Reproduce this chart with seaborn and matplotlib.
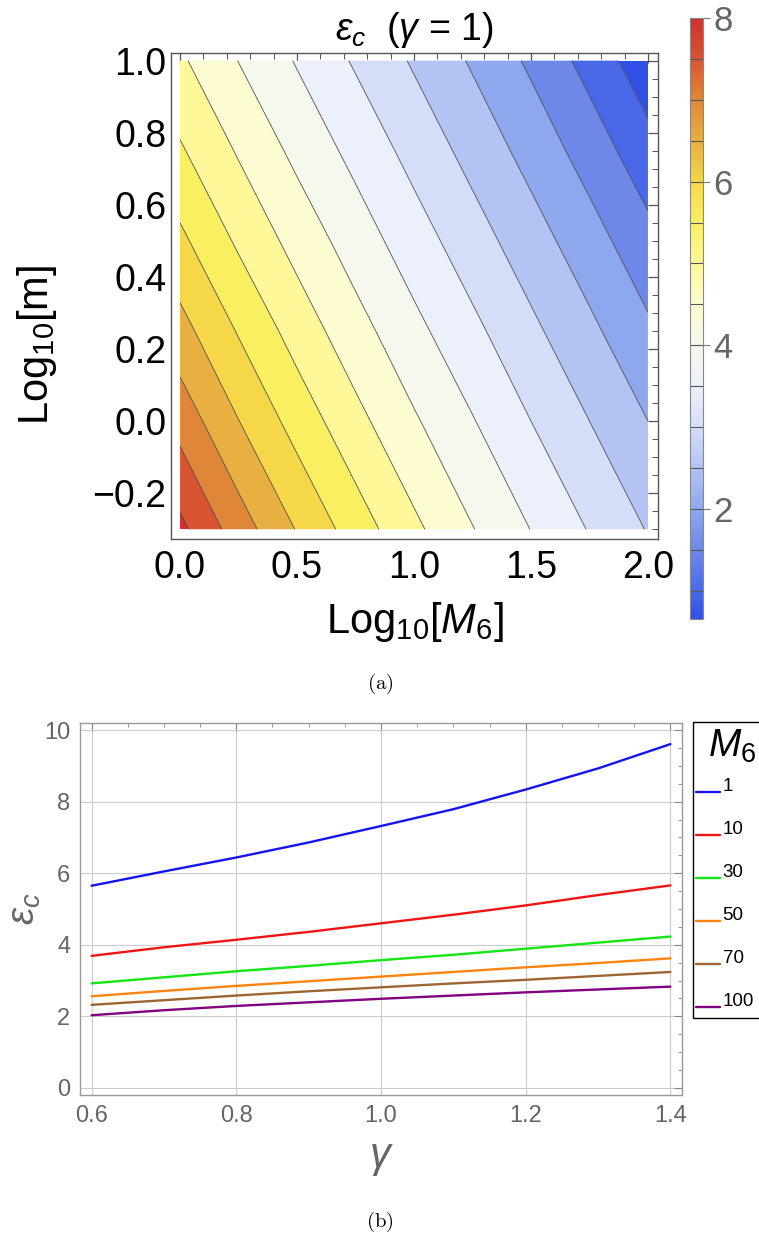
import numpy as np
import matplotlib
matplotlib.use("Agg")
import matplotlib.pyplot as plt
import seaborn as sns
import pandas as pd
from matplotlib.colors import LinearSegmentedColormap, Normalize
from matplotlib.cm import ScalarMappable
from matplotlib.ticker import MultipleLocator, FuncFormatter
from matplotlib.patches import Rectangle
from matplotlib.transforms import ScaledTranslation

# ---------------- panel (a) data: eps_c(gamma=1) on a grid ----------------
log_M6 = [0.0, 0.25, 0.5, 0.75, 1.0, 1.25, 1.5, 1.75, 2.0]
log_m = [-0.3, 0.0, 0.25, 0.5, 0.75, 1.0]
eps_row_m030 = [8.13, 7.25, 6.47, 5.76, 5.11, 4.52, 3.99, 3.47, 2.97]
eps_row_m000 = [7.31, 6.51, 5.80, 5.15, 4.56, 4.03, 3.50, 3.00, 2.50]
eps_row_p025 = [6.68, 5.96, 5.29, 4.69, 4.14, 3.62, 3.11, 2.61, 2.09]
eps_row_p050 = [6.11, 5.42, 4.82, 4.26, 3.73, 3.22, 2.72, 2.21, 1.66]
eps_row_p075 = [5.56, 4.95, 4.37, 3.85, 3.33, 2.83, 2.32, 1.78, 1.18]
eps_row_p100 = [5.08, 4.49, 3.96, 3.44, 2.94, 2.44, 1.91, 1.32, 0.68]

contour_levels = [1.0, 1.5, 2.0, 2.5, 3.0, 3.5, 4.0, 4.5, 5.0, 5.5, 6.0, 6.5, 7.0, 7.5, 8.0]
cbar_min, cbar_max = 0.66, 8.0
cbar_ticks = [2, 4, 6, 8]
# colour scale (value -> colour)
cmap_values = [0.66, 1.0, 1.5, 2.0, 2.5, 3.0, 3.5, 4.0, 4.5, 5.0, 5.5, 6.0, 6.5, 7.0, 7.5, 8.0]
cmap_colors = ["#3050E8", "#4A6AE8", "#6E88EA", "#90A8EE", "#B3C3F3", "#D6DEF8", "#ECF0FA",
               "#F5F8EC", "#FEFCD0", "#FFF89A", "#F8F060", "#F5D848", "#E8B040", "#E08838",
               "#D85430", "#D03030"]

# ---------------- panel (b) data ----------------
gamma = [0.6, 0.7, 0.8, 0.9, 1.0, 1.1, 1.2, 1.3, 1.4]
eps_M1 = [5.65, 6.05, 6.44, 6.86, 7.32, 7.79, 8.34, 8.93, 9.61]
eps_M10 = [3.69, 3.93, 4.14, 4.36, 4.60, 4.84, 5.10, 5.39, 5.66]
eps_M30 = [2.92, 3.09, 3.26, 3.41, 3.57, 3.72, 3.89, 4.06, 4.23]
eps_M50 = [2.56, 2.71, 2.85, 2.98, 3.11, 3.24, 3.37, 3.49, 3.62]
eps_M70 = [2.32, 2.45, 2.58, 2.70, 2.81, 2.92, 3.02, 3.13, 3.24]
eps_M100 = [2.03, 2.17, 2.29, 2.39, 2.49, 2.58, 2.67, 2.75, 2.83]
M6_labels = ["1", "10", "30", "50", "70", "100"]
line_colors = ["#1414F0", "#F01414", "#14E614", "#FF8410", "#9C6633", "#800080"]

# ---------------- style ----------------
sns.set_theme(style="white")
plt.rcParams["font.family"] = ["Liberation Sans", "DejaVu Sans"]
plt.rcParams["mathtext.fontset"] = "custom"
plt.rcParams["mathtext.rm"] = "Liberation Sans"
plt.rcParams["mathtext.it"] = "Liberation Sans:italic"
plt.rcParams["mathtext.bf"] = "Liberation Sans:bold"
plt.rcParams["axes.unicode_minus"] = True

W, H = 759, 1258
fig = plt.figure(figsize=(W / 100, H / 100), dpi=100)


def fx(px):
    return px / W


def fy(py):
    return 1 - py / H


# ======================= panel (a) =======================
ax1 = fig.add_axes([fx(170.7), fy(539), fx(658) - fx(170.7), fy(52.7) - fy(539)])
cmap = LinearSegmentedColormap.from_list(
    "thermo", [((v - cbar_min) / (cbar_max - cbar_min), c) for v, c in zip(cmap_values, cmap_colors)])
norm = Normalize(cbar_min, cbar_max)
fill_levels = [0.5] + contour_levels + [8.5]
band_colors = [cmap(norm(max(lv, cbar_min))) for lv in fill_levels[:-1]]

X, Y = np.meshgrid(log_M6, log_m)
Z = np.array([eps_row_m030, eps_row_m000, eps_row_p025, eps_row_p050, eps_row_p075, eps_row_p100])
ax1.contourf(X, Y, Z, levels=fill_levels, colors=band_colors, antialiased=True)
ax1.contour(X, Y, Z, levels=contour_levels, colors="#404040", linewidths=0.6, alpha=0.9)
ax1.set_xlim(-0.04, 2.043)
ax1.set_ylim(-0.327, 1.022)
ax1.set_xticks([0.0, 0.5, 1.0, 1.5, 2.0])
ax1.set_yticks([-0.2, 0.0, 0.2, 0.4, 0.6, 0.8, 1.0])
ax1.xaxis.set_minor_locator(MultipleLocator(0.1))
ax1.yaxis.set_minor_locator(MultipleLocator(0.05))
fmt = FuncFormatter(lambda v, _: f"{v:.1f}".replace("-", "\u2212") if abs(v) > 1e-9 else "0.0")
ax1.xaxis.set_major_formatter(fmt)
ax1.yaxis.set_major_formatter(fmt)
ax1.tick_params(which="both", direction="in", top=True, right=True, color="#555555",
                labelcolor="black", labelsize=27)
ax1.tick_params(axis="x", which="major", pad=8)
ax1.tick_params(axis="y", which="major", pad=3)
ax1.tick_params(which="major", length=7, width=0.9)
ax1.tick_params(which="minor", length=4, width=0.7)
for s in ax1.spines.values():
    s.set_color("#555555")
    s.set_linewidth(1.0)
ax1.set_title(r"$\varepsilon_c$  ($\gamma$ = 1)", fontsize=27, pad=9, color="black")
ax1.set_xlabel(r"Log$_{10}$[$M_6$]", fontsize=30, color="black", labelpad=10)
ax1.set_ylabel(r"Log$_{10}$[m]", fontsize=30, color="black")
ax1.yaxis.label.set_va("center")
ax1.yaxis.set_label_coords(-0.275, 0.40)

# colour bar
cax = fig.add_axes([fx(690), fy(619), fx(702.5) - fx(690), fy(17.7) - fy(619)])
sm = ScalarMappable(norm=norm, cmap=cmap)
cb = fig.colorbar(sm, cax=cax, ticks=cbar_ticks)
cb.outline.set_edgecolor("#888888")
cb.outline.set_linewidth(0.8)
cax.hlines(contour_levels[:-1], 0, 1, colors="#555555", linewidths=0.8)
cax.tick_params(labelsize=25, labelcolor="#666666", color="#777777", length=5, width=0.8, pad=3)

fig.text(fx(380), fy(684), r"$\mathrm{(a)}$", math_fontfamily="cm", fontsize=15,
         ha="center", va="center", color="black")

# ======================= panel (b) =======================
ax2 = fig.add_axes([fx(80), fy(1095), fx(682) - fx(80), fy(723) - fy(1095)])
all_series = [eps_M1, eps_M10, eps_M30, eps_M50, eps_M70, eps_M100]
df = pd.DataFrame({
    "gamma": gamma * len(all_series),
    "eps": [v for s in all_series for v in s],
    "M6": [lab for lab in M6_labels for _ in gamma],
})
sns.lineplot(data=df, x="gamma", y="eps", hue="M6", hue_order=M6_labels,
             palette=line_colors, linewidth=1.7, ax=ax2)
ax2.set_xlim(0.584, 1.416)
ax2.set_ylim(-0.2, 10.2)
ax2.set_xticks([0.6, 0.8, 1.0, 1.2, 1.4])
ax2.set_yticks([0, 2, 4, 6, 8, 10])
ax2.xaxis.set_minor_locator(MultipleLocator(0.05))
ax2.yaxis.set_minor_locator(MultipleLocator(0.5))
ax2.grid(True, which="major", color="#CCCCCC", linewidth=0.8)
ax2.set_axisbelow(True)
ax2.tick_params(which="both", direction="in", top=True, right=True, color="#888888",
                labelcolor="#666666", labelsize=17, pad=7)
ax2.tick_params(which="major", length=6, width=0.8)
ax2.tick_params(which="minor", length=3, width=0.6)
for s in ax2.spines.values():
    s.set_color("#999999")
    s.set_linewidth(1.0)
ax2.set_xlabel(r"$\gamma$", fontsize=30, color="#666666", labelpad=8)
ax2.set_ylabel(r"$\varepsilon_c$", fontsize=28, color="#666666")
ax2.yaxis.label.set_va("center")
ax2.yaxis.set_label_coords((25 - 80) / 602, 0.5)

# legend: entries from seaborn's handles, framed box + title drawn around them
handles, labels = ax2.get_legend_handles_labels()
leg = ax2.legend(handles, labels, fontsize=13.5, loc="center left",
                 bbox_to_anchor=(fx(696), fy(901)), bbox_transform=fig.transFigure,
                 frameon=False, borderpad=0, labelspacing=1.38,
                 handlelength=1.3, handletextpad=0.12, borderaxespad=0)
for t in leg.get_texts():
    t.set_color("black")
    t.set_transform(t.get_transform() + ScaledTranslation(0, 5 / 72, fig.dpi_scale_trans))
fig.patches.append(Rectangle((fx(692.7), fy(1018)), fx(790) - fx(692.7), fy(721.7) - fy(1018),
                             transform=fig.transFigure, fill=False, edgecolor="black",
                             linewidth=1.0, zorder=5))
fig.text(fx(708), fy(757), r"$M_6$", fontsize=28, ha="left", va="baseline", color="black")

fig.text(fx(380), fy(1222), r"$\mathrm{(b)}$", math_fontfamily="cm", fontsize=15,
         ha="center", va="center", color="black")

fig.savefig("out.png", dpi=100)
